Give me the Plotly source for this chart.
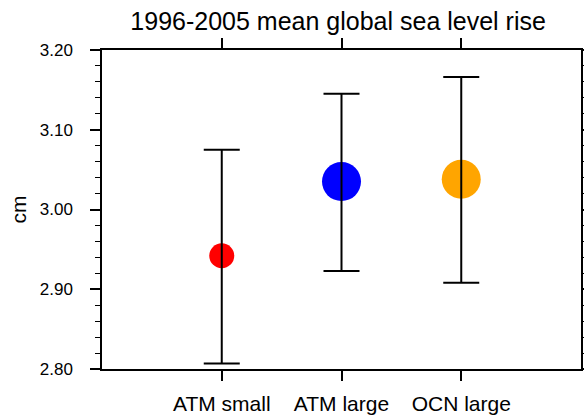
import plotly.graph_objects as go

categories = ["ATM small", "ATM large", "OCN large"]
means = [2.942, 3.035, 3.038]
upper = [3.075, 3.145, 3.166]
lower = [2.807, 2.923, 2.908]
colors = ["#FF0000", "#0000FF", "#FFA500"]
sizes = [25, 39, 39]
yticks = [2.80, 2.90, 3.00, 3.10, 3.20]

x = list(range(len(categories)))
err_plus = [u - m for u, m in zip(upper, means)]
err_minus = [m - l for m, l in zip(means, lower)]

fig = go.Figure()
fig.add_trace(go.Scatter(
    x=x, y=means, mode="markers", opacity=1,
    marker=dict(color=colors, size=sizes, opacity=1, line=dict(width=0)),
    showlegend=False, hoverinfo="skip"))
fig.add_trace(go.Scatter(
    x=x, y=means, mode="markers",
    marker=dict(color="rgba(0,0,0,0)", size=1),
    error_y=dict(type="data", symmetric=False, array=err_plus, arrayminus=err_minus,
                 color="black", thickness=2, width=18),
    showlegend=False))

font = "Liberation Sans, Arial, Helvetica, sans-serif"
fig.update_layout(
    width=584, height=416,
    margin=dict(l=102, r=3, t=50, b=47, autoexpand=False),
    paper_bgcolor="white", plot_bgcolor="white",
    font=dict(family=font, color="black"),
    title=dict(text="1996-2005 mean global sea level rise", x=0.579, xanchor="center",
               yref="container", y=0.948, yanchor="middle",
               font=dict(size=25, family=font, color="black")),
)
fig.update_xaxes(
    range=[-1, 3], tickmode="array", tickvals=x, ticktext=categories, automargin=False,
    showgrid=False, zeroline=False, showline=True, linecolor="black", linewidth=1.5,
    mirror="ticks", ticks="outside", ticklen=10, tickwidth=1.5, tickcolor="black",
    tickfont=dict(size=21, family=font, color="black"), ticklabelstandoff=5)
fig.update_yaxes(
    range=[2.80, 3.20], tickmode="array", tickvals=yticks, automargin=False,
    ticktext=[f"{v:.2f}" for v in yticks],
    showgrid=False, zeroline=False, showline=True, linecolor="black", linewidth=1.5,
    mirror="ticks", ticks="outside", ticklen=10, tickwidth=1.5, tickcolor="black",
    tickfont=dict(size=17, family=font, color="black"), ticklabelstandoff=14,
    minor=dict(dtick=0.02, tick0=2.80, ticks="outside", ticklen=5, tickwidth=1, tickcolor="black", showgrid=False),
    title=dict(text="cm", font=dict(size=21, family=font, color="black"), standoff=7))

fig.write_html("out.html")
